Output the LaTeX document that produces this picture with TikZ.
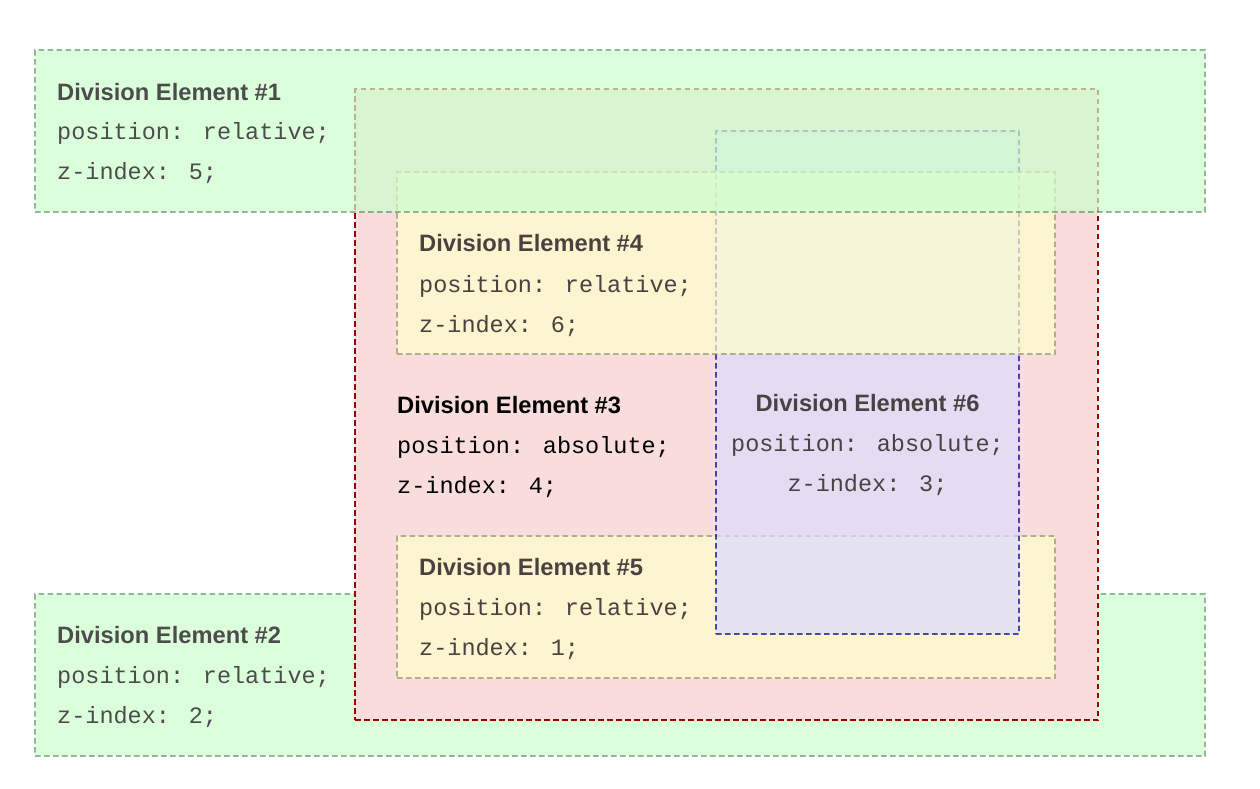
\documentclass[tikz,border=0pt]{standalone}
\usepackage{fontspec}
\newfontfamily\titlefont{Liberation Sans}
\newfontfamily\codefont{Liberation Mono}
\definecolor{grnfill}{HTML}{CCFFCC}
\definecolor{grnline}{HTML}{669966}
\definecolor{redfill}{HTML}{F9DCDC}
\definecolor{redline}{HTML}{990000}
\definecolor{yelfill}{HTML}{FFFFCC}
\definecolor{yelline}{HTML}{999966}
\definecolor{blufill}{HTML}{DDDDFF}
\definecolor{bluline}{HTML}{000099}
\tikzset{
  divbox/.style={rectangle, inner sep=0pt, outer sep=0pt, anchor=north west,
    line width=1.9pt, dash pattern=on 5.5pt off 3.5pt},
  ttl/.style={inner sep=0pt, anchor=base west, font=\titlefont\bfseries\fontsize{23.7}{28}\selectfont},
  code/.style={inner sep=0pt, anchor=base west, font=\codefont\fontsize{23.5}{28}\selectfont},
  grp/.style={transparency group, opacity=0.7}
}
\begin{document}
\begin{tikzpicture}[x=1pt,y=-1pt]
\useasboundingbox (0,0) rectangle (1260,788);
% Division Element #2
\begin{scope}[grp]
  \node[divbox, fill=grnfill, draw=grnline, minimum width=1170pt, minimum height=162pt] (d2) at (35,594) {};
  \node[ttl] (d2t) at (57,643) {Division Element \#2};
  \node[code] (d2p) at (57,683) {position: relative;};
  \node[code] (d2z) at (57,723) {z-index: 2;};
\end{scope}
% Division Element #3
\node[divbox, fill=redfill, draw=redline, minimum width=743pt, minimum height=631pt] (d3) at (355,89) {};
\node[ttl] (d3t) at (397,413) {Division Element \#3};
\node[code] (d3p) at (397,453) {position: absolute;};
\node[code] (d3z) at (397,493) {z-index: 4;};
% Division Element #5
\begin{scope}[grp]
  \node[divbox, fill=yelfill, draw=yelline, minimum width=658pt, minimum height=142pt] (d5) at (397,536) {};
  \node[ttl] (d5t) at (419,575) {Division Element \#5};
  \node[code] (d5p) at (419,615) {position: relative;};
  \node[code] (d5z) at (419,655) {z-index: 1;};
\end{scope}
% Division Element #6
\begin{scope}[grp]
  \node[divbox, fill=blufill, draw=bluline, minimum width=303pt, minimum height=503pt] (d6) at (716,131) {};
  \node[ttl, anchor=base] (d6t) at (867.5,411) {Division Element \#6};
  \node[code, anchor=base] (d6p) at (867.5,451) {position: absolute;};
  \node[code, anchor=base] (d6z) at (867.5,491) {z-index: 3;};
\end{scope}
% Division Element #4
\begin{scope}[grp]
  \node[divbox, fill=yelfill, draw=yelline, minimum width=658pt, minimum height=182pt] (d4) at (397,172) {};
  \node[ttl] (d4t) at (419,251) {Division Element \#4};
  \node[code] (d4p) at (419,292) {position: relative;};
  \node[code] (d4z) at (419,332) {z-index: 6;};
\end{scope}
% Division Element #1
\begin{scope}[grp]
  \node[divbox, fill=grnfill, draw=grnline, minimum width=1170pt, minimum height=162pt] (d1) at (35,50) {};
  \node[ttl] (d1t) at (57,100) {Division Element \#1};
  \node[code] (d1p) at (57,139) {position: relative;};
  \node[code] (d1z) at (57,179) {z-index: 5;};
\end{scope}
\end{tikzpicture}
\end{document}
